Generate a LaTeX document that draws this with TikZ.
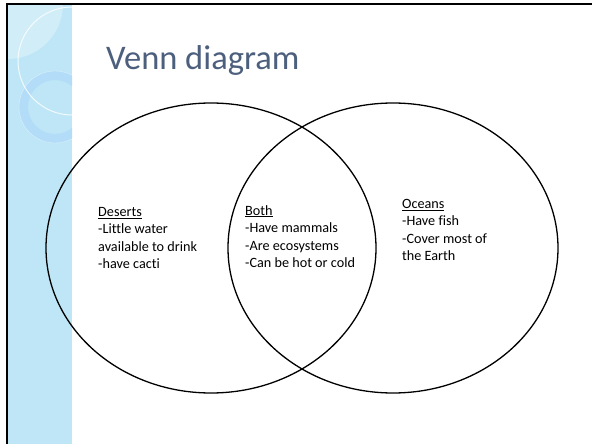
\documentclass[tikz,border=0pt]{standalone}
\usepackage{fontspec}
\setmainfont[Ligatures=NoCommon]{Carlito}
\usetikzlibrary{shapes.geometric, positioning}
\definecolor{stripblue}{RGB}{190,230,246}
\definecolor{ringblue}{RGB}{178,220,248}
\definecolor{titlegray}{RGB}{76,95,125}

\begin{document}
\begin{tikzpicture}[
    x=1pt, y=-1pt,
    set/.style={ellipse, draw, line width=1.3pt, minimum width=330pt, minimum height=290pt, inner sep=0pt},
    lbl/.style={anchor=north west, inner sep=0pt, align=left, font=\fontsize{14.2}{17.5}\selectfont},
    heading/.style={anchor=base west, inner sep=0pt, text=titlegray, font=\fontsize{34.5}{40}\selectfont}
]
\useasboundingbox (0,0) rectangle (592,444);
\fill[white] (0,0) rectangle (592,444);

% side strip
\fill[stripblue] (8,4) rectangle (72,444);
\begin{scope}
  \clip (8,4) rectangle (72,444);
  \fill[white, opacity=0.3] (8,4) circle (55pt);
  \fill[ringblue, even odd rule] (55,107) circle (36pt) (55,107) circle (27pt);
  \draw[white, opacity=0.5] (55,107) circle (36pt);
  \draw[white, line width=1pt, opacity=0.8] (72,61) circle (54pt);
\end{scope}
\draw[line width=2pt] (7,444) -- (7,4) -- (592,4);

\node[heading] (title) at (106,70) {Venn diagram};

\node[set] (deserts) at (211,248) {};
\node[set] (oceans) at (393,248) {};

\node[lbl] (desertstxt) at (98,207) {\underline{Deserts}\\-Little water\\available to drink\\-have cacti};
\node[lbl] (bothtxt) at (245,205) {\underline{Both}\\-Have mammals\\-Are ecosystems\\-Can be hot or cold};
\node[lbl] (oceanstxt) at (402,199) {\underline{Oceans}\\-Have fish\\-Cover most of\\the Earth};

\end{tikzpicture}
\end{document}
